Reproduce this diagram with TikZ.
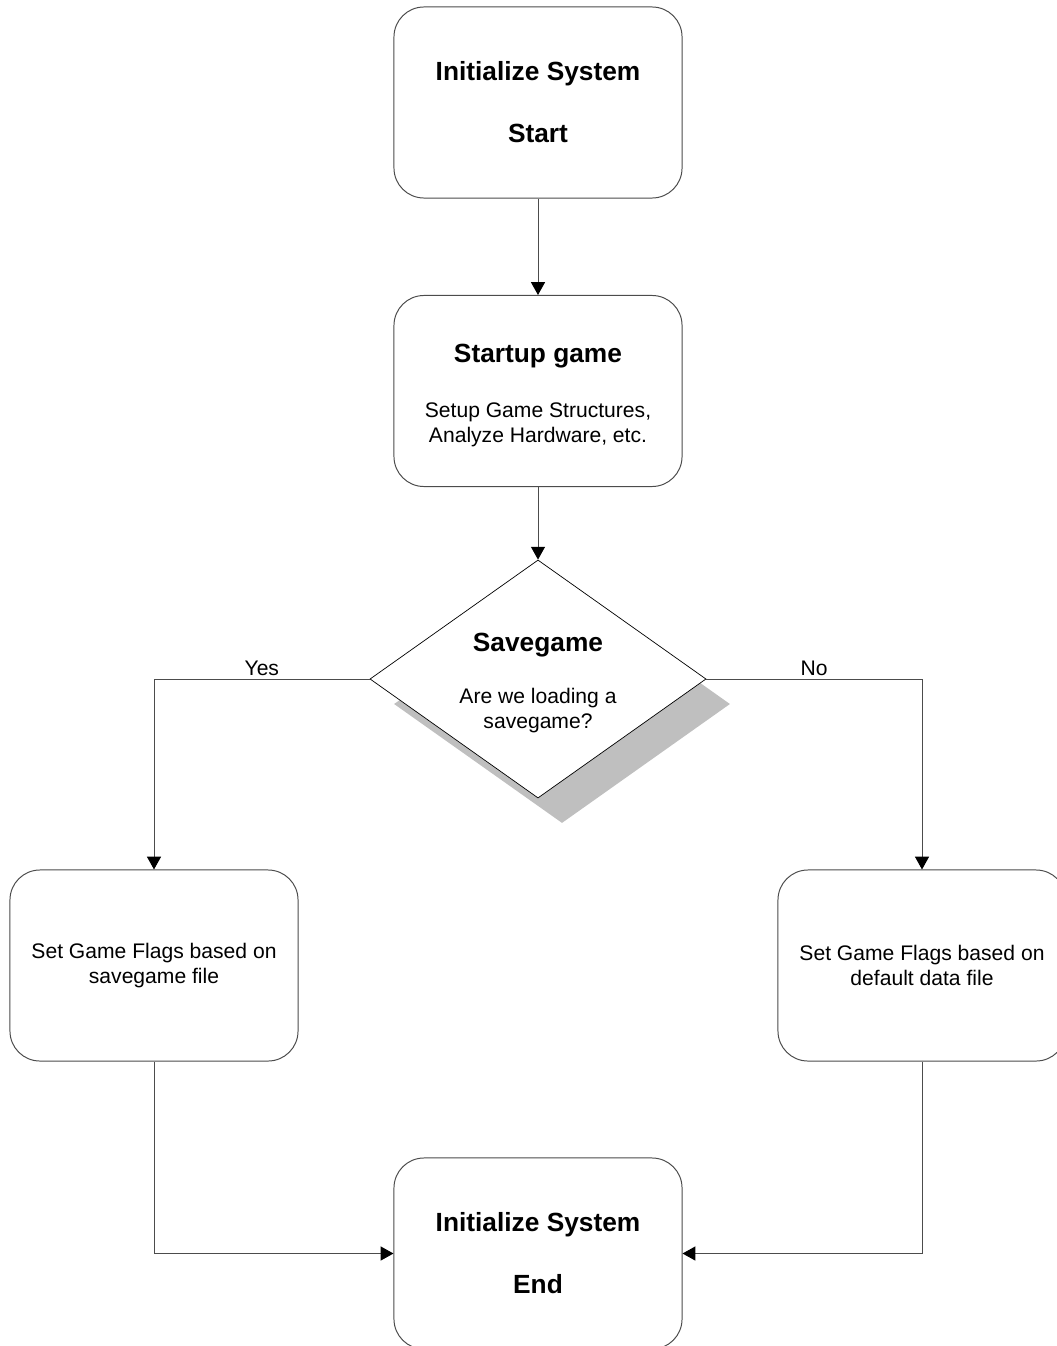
\documentclass[tikz,border=0pt]{standalone}
\usepackage{fontspec}
\setmainfont{Liberation Sans}
\usetikzlibrary{shapes,arrows,arrows.meta,positioning,calc,shadows}

\newcommand{\boxtitle}{\bfseries\fontsize{18.7}{18}\selectfont}
\newcommand{\boxtext}{\fontsize{15}{18}\selectfont}

\begin{document}
\begin{tikzpicture}[x=0.025cm, y=-0.025cm,
    box/.style={draw=black!70, line width=0.7pt, rectangle, rounded corners=0.75cm, minimum width=7.2cm, minimum height=4.775cm, align=center, fill=white, inner sep=0pt, font=\boxtext},
    decision/.style={draw=black, line width=0.5pt, diamond, aspect=1.41, minimum width=8.4cm, minimum height=5.95cm, inner sep=0pt, align=center, fill=white, font=\boxtext, drop shadow={shadow xshift=0.6cm, shadow yshift=-0.625cm, fill=black!25, opacity=1}},
    flow/.style={draw=black!70, line width=0.7pt, -{Triangle[length=0.32cm, width=0.35cm, color=black]}},
    lbl/.style={font=\boxtext, inner sep=2pt}
]
    \useasboundingbox (0,0) rectangle (1057,1346);

    \node[box] (start) at (538,102.5) {{\boxtitle Initialize System}\\[26pt]{\boxtitle Start}};
    \node[box] (startup) at (538,391) {{\boxtitle\rule{0pt}{20pt}Startup game}\\[21pt]Setup Game Structures,\\Analyze Hardware, etc.};
    \node[decision] (savegame) at (538,679) {{\boxtitle\rule{0pt}{19pt}Savegame}\\[19pt]Are we loading a\\savegame?};
    \node[box] (loadflags) at (154,965.5) {Set Game Flags based on\\savegame file};
    \node[box] (defaultflags) at (922,965.5) {Set Game Flags based on\\default data file};
    \node[box] (finish) at (538,1253.5) {{\boxtitle Initialize System}\\[26pt]{\boxtitle End}};

    \draw[flow] (start) -- (startup);
    \draw[flow] (startup) -- (savegame);
    \draw[flow] (savegame.west) -| node[pos=0.25, above, lbl] {Yes} (loadflags.north);
    \draw[flow] (savegame.east) -| node[pos=0.25, above, lbl] {No} (defaultflags.north);
    \draw[flow] (loadflags.south) |- (finish.west);
    \draw[flow] (defaultflags.south) |- (finish.east);
\end{tikzpicture}
\end{document}
